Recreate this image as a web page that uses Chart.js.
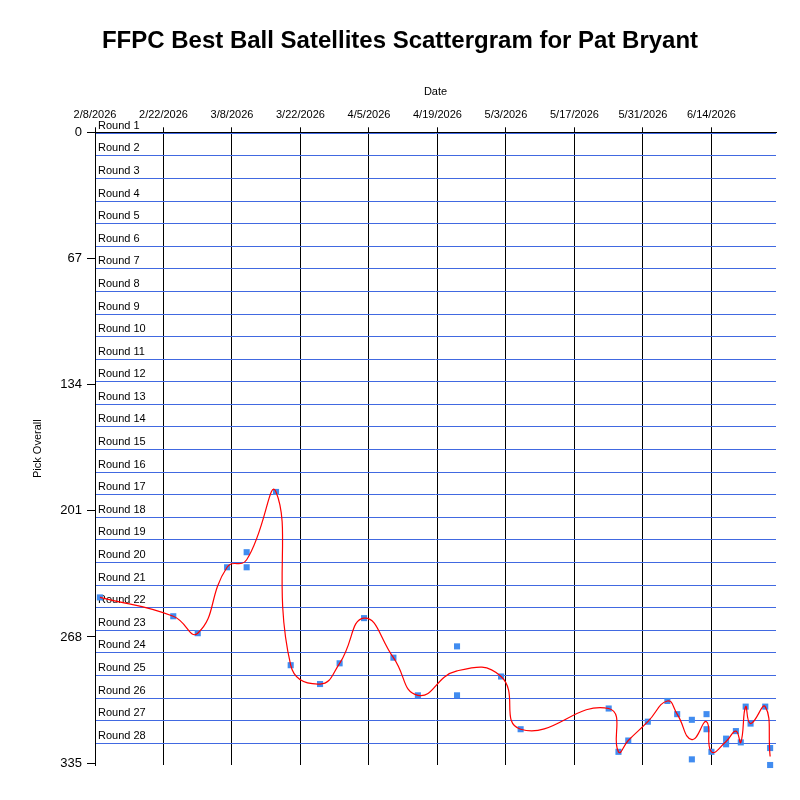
<!DOCTYPE html>
<html>
<head>
<meta charset="utf-8">
<title>FFPC Best Ball Satellites Scattergram for Pat Bryant</title>
<script src="https://cdn.jsdelivr.net/npm/chart.js@4.4.1/dist/chart.umd.min.js"></script>
<style>
  html, body { margin: 0; padding: 0; background: #fff; }
  #wrap { width: 800px; height: 800px; position: relative; }
</style>
</head>
<body>
<div id="wrap"><canvas id="chart"></canvas></div>
<script>
// picks, one per entry
const pickDates = ['2/9/2026', '2/24/2026', '3/1/2026', '3/7/2026', '3/11/2026', '3/11/2026', '3/17/2026', '3/20/2026', '3/26/2026', '3/30/2026',
                   '4/4/2026', '4/10/2026', '4/15/2026', '4/23/2026', '4/23/2026', '5/2/2026', '5/6/2026', '5/24/2026', '5/26/2026', '5/28/2026',
                   '6/1/2026', '6/5/2026', '6/7/2026', '6/10/2026', '6/10/2026', '6/13/2026', '6/13/2026', '6/14/2026', '6/17/2026', '6/17/2026',
                   '6/19/2026', '6/20/2026', '6/21/2026', '6/22/2026', '6/25/2026', '6/26/2026', '6/26/2026'];
const pickOverall = [247, 257, 266, 231, 223, 231, 191, 283, 293, 282,
                     258, 279, 299, 273, 299, 289, 317, 306, 329, 323,
                     313, 302, 309, 312, 333, 309, 317, 329, 322, 325,
                     318, 324, 305, 314, 305, 327, 336];

// trend line (average pick per date)
const trendDates = ['2/9/2026', '2/24/2026', '3/1/2026', '3/7/2026', '3/11/2026', '3/17/2026', '3/20/2026', '3/26/2026', '3/30/2026', '4/4/2026',
                    '4/10/2026', '4/15/2026', '4/23/2026', '5/2/2026', '5/6/2026', '5/24/2026', '5/26/2026', '5/28/2026', '6/1/2026', '6/5/2026',
                    '6/7/2026', '6/10/2026', '6/13/2026', '6/14/2026', '6/17/2026', '6/19/2026', '6/20/2026', '6/21/2026', '6/22/2026', '6/25/2026',
                    '6/26/2026'];
const trendPick = [247, 257, 266, 231, 227, 191, 283, 293, 282, 258,
                   279, 299, 286, 289, 317, 306, 329, 323, 313, 302,
                   309, 322.5, 313, 329, 323.5, 318, 324, 305, 314, 305,
                   331.5];

// axes
const pickTicks = [0, 67, 134, 201, 268, 335];
const roundNames = ['Round 1', 'Round 2', 'Round 3', 'Round 4', 'Round 5', 'Round 6', 'Round 7', 'Round 8', 'Round 9', 'Round 10',
                    'Round 11', 'Round 12', 'Round 13', 'Round 14', 'Round 15', 'Round 16', 'Round 17', 'Round 18', 'Round 19', 'Round 20',
                    'Round 21', 'Round 22', 'Round 23', 'Round 24', 'Round 25', 'Round 26', 'Round 27', 'Round 28'];
const roundLines = [0.5, 12.5, 24.5, 36.5, 48.5, 60.5, 72.5, 84.5, 96.5, 108.5,
                    120.5, 132.5, 144.5, 156.5, 168.5, 180.5, 192.5, 204.5, 216.5, 228.5,
                    240.5, 252.5, 264.5, 276.5, 288.5, 300.5, 312.5, 324.5];

const START = Date.UTC(2026, 1, 8);
function dayOf(s) {
    const [m, d, y] = s.split('/').map(Number);
    return (Date.UTC(y, m - 1, d) - START) / 86400000;
}
function dateLabel(day) {
    const dt = new Date(START + day * 86400000);
    return (dt.getUTCMonth() + 1) + '/' + dt.getUTCDate() + '/' + dt.getUTCFullYear();
}

const FONT = '"Liberation Sans", Arial, sans-serif';

// "Round n" text sits just above each round line
const roundLabelPlugin = {
    id: 'roundLabels',
    beforeDatasetsDraw(chart) {
        const { ctx, scales: { x, y } } = chart;
        ctx.save();
        ctx.font = '11px ' + FONT;
        ctx.fillStyle = '#000';
        ctx.textAlign = 'left';
        ctx.textBaseline = 'middle';
        roundNames.forEach((name, i) => {
            ctx.fillText(name, x.left + 3, y.getPixelForValue(roundLines[i] - 4));
        });
        ctx.restore();
    }
};

const ctx = document.getElementById('chart').getContext('2d');
new Chart(ctx, {
    type: 'scatter',
    data: {
        datasets: [{
            type: 'line',
            label: 'Trend',
            data: trendDates.map((d, i) => ({ x: dayOf(d), y: trendPick[i] })),
            borderColor: '#ff0000',
            borderWidth: 1.2,
            pointRadius: 0,
            tension: 0.5,
            fill: false,
            clip: false
        }, {
            label: 'Pick',
            data: pickDates.map((d, i) => ({ x: dayOf(d), y: pickOverall[i] })),
            backgroundColor: 'rgb(65, 140, 240)',
            borderColor: 'rgb(65, 140, 240)',
            borderWidth: 0,
            pointStyle: 'rect',
            pointRadius: 4.3,
            clip: false
        }]
    },
    options: {
        responsive: true,
        maintainAspectRatio: false,
        animation: false,
        layout: { padding: { left: 0, right: 0, top: 0, bottom: 35 } },
        plugins: {
            legend: { display: false },
            tooltip: { enabled: false },
            title: {
                display: true,
                text: 'FFPC Best Ball Satellites Scattergram for Pat Bryant',
                color: '#000',
                font: { family: FONT, size: 24, weight: 'bold' },
                padding: { top: 27, bottom: 0 }
            }
        },
        scales: {
            x: {
                type: 'linear',
                position: 'top',
                min: 0,
                max: 139.2,
                afterFit(scale) { scale.height = 76.5; },
                title: {
                    display: true,
                    text: 'Date',
                    color: '#000',
                    font: { family: FONT, size: 11 },
                    padding: { top: 29.5, bottom: 0 }
                },
                ticks: {
                    stepSize: 14,
                    includeBounds: false,
                    autoSkip: false,
                    maxRotation: 0,
                    color: '#000',
                    font: { family: FONT, size: 11 },
                    padding: 6,
                    callback: v => dateLabel(v)
                },
                grid: { color: '#000', lineWidth: 1, tickLength: 5, drawOnChartArea: true },
                border: { color: '#000', width: 1 }
            },
            y: {
                type: 'linear',
                position: 'left',
                reverse: true,
                min: 0,
                max: 336,
                afterFit(scale) { scale.width = 95; },
                afterBuildTicks(scale) { scale.ticks = pickTicks.map(v => ({ value: v })); },
                title: {
                    display: true,
                    text: 'Pick Overall',
                    color: '#000',
                    font: { family: FONT, size: 11 },
                    padding: { top: 31.4, bottom: 0 }
                },
                ticks: {
                    color: '#000',
                    font: { family: FONT, size: 13 },
                    padding: 5
                },
                grid: { color: '#000', lineWidth: 1, tickLength: 8, drawOnChartArea: false },
                border: { color: '#000', width: 1 }
            },
            yRound: {
                type: 'linear',
                position: 'left',
                reverse: true,
                min: 0,
                max: 336,
                afterFit(scale) { scale.width = 0; },
                afterBuildTicks(scale) { scale.ticks = roundLines.map(v => ({ value: v })); },
                ticks: { display: false },
                grid: { color: 'rgb(65, 105, 225)', lineWidth: 1, drawTicks: false, drawOnChartArea: true },
                border: { display: false }
            },
            // empty strip on the right so the plot ends where the reference does
            yRight: {
                type: 'linear',
                position: 'right',
                min: 0,
                max: 336,
                afterFit(scale) { scale.width = 24; },
                ticks: { display: false },
                grid: { display: false, drawTicks: false },
                border: { display: false }
            }
        }
    },
    plugins: [roundLabelPlugin]
});
</script>
</body>
</html>
